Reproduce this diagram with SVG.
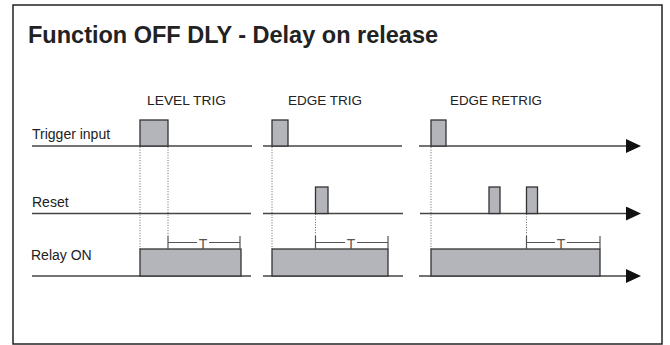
<svg xmlns="http://www.w3.org/2000/svg" width="670" height="345" viewBox="0 0 670 345">
<style>
.t{font-family:"Liberation Sans",Arial,sans-serif;fill:#222}
.tt{font-family:"Liberation Sans",Arial,sans-serif;fill:#555;font-size:14px}
.ax{stroke:#444;stroke-width:1.3;fill:none}
.p{fill:#b3b5ba;stroke:#333;stroke-width:1.3}
.d{stroke:#666;stroke-width:1;stroke-dasharray:1 1.6;fill:none}
.dim{stroke:#555;stroke-width:1.2;fill:none}
</style>
<defs>
<marker id="ah" viewBox="0 0 15 14" refX="0" refY="7" markerWidth="15" markerHeight="14" markerUnits="userSpaceOnUse" orient="auto">
<path d="M0,0 L15,7 L0,14 Z" fill="#111"/>
</marker>
</defs>
<rect x="13" y="5" width="649" height="339" fill="#fff" stroke="#222" stroke-width="1.5"/>
<text class="t" x="28" y="43" font-size="23.5" font-weight="bold">Function OFF DLY - Delay on release</text>
<g id="headers" font-size="13">
<text class="t" x="147" y="105" textLength="79" lengthAdjust="spacingAndGlyphs">LEVEL TRIG</text>
<text class="t" x="288" y="105" textLength="74" lengthAdjust="spacingAndGlyphs">EDGE TRIG</text>
<text class="t" x="450" y="105" textLength="92" lengthAdjust="spacingAndGlyphs">EDGE RETRIG</text>
</g>
<g id="labels" font-size="14">
<text class="t" x="32" y="139">Trigger input</text>
<text class="t" x="32" y="207">Reset</text>
<text class="t" x="31" y="260">Relay ON</text>
</g>
<g id="connectors">
<g id="dotted">
<line class="d" x1="140" y1="147" x2="140" y2="249"/>
<line class="d" x1="168" y1="147" x2="168" y2="236"/>
<line class="d" x1="272" y1="147" x2="272" y2="249"/>
<line class="d" x1="315.5" y1="214" x2="315.5" y2="236"/>
<line class="d" x1="431" y1="147" x2="431" y2="249"/>
<line class="d" x1="526.5" y1="214" x2="526.5" y2="236"/>
</g>
<g id="axes">
<line class="ax" x1="32" y1="146" x2="252" y2="146"/>
<line class="ax" x1="263" y1="146" x2="402" y2="146"/>
<line class="ax" x1="419" y1="146" x2="626" y2="146" marker-end="url(#ah)"/>
<line class="ax" x1="32" y1="213.5" x2="251" y2="213.5"/>
<line class="ax" x1="263" y1="213.5" x2="403" y2="213.5"/>
<line class="ax" x1="420" y1="213.5" x2="626" y2="213.5" marker-end="url(#ah)"/>
<line class="ax" x1="32" y1="276" x2="251" y2="276"/>
<line class="ax" x1="263" y1="276" x2="403" y2="276"/>
<line class="ax" x1="419" y1="276" x2="626" y2="276" marker-end="url(#ah)"/>
</g>
</g>
<g id="trigger-pulses">
<rect class="p" x="140" y="120" width="28" height="26"/>
<rect class="p" x="272" y="120" width="16" height="26"/>
<rect class="p" x="431" y="120" width="15" height="26"/>
</g>
<g id="reset-pulses">
<rect class="p" x="315.5" y="187" width="12.5" height="26.5"/>
<rect class="p" x="489" y="187" width="11" height="26.5"/>
<rect class="p" x="526.5" y="187" width="11" height="26.5"/>
</g>
<g id="relay-pulses">
<rect class="p" x="140" y="249" width="101" height="27"/>
<rect class="p" x="272" y="249" width="116" height="27"/>
<rect class="p" x="431" y="249" width="169" height="27"/>
</g>
<g id="dim-level">
<path class="dim" d="M168,236 V249 M240,236 V249 M168,242.5 H197 M209,242.5 H240"/>
<text class="tt" x="203" y="249" text-anchor="middle">T</text>
</g>
<g id="dim-edge">
<path class="dim" d="M315.5,236 V249 M388,236 V249 M315.5,242.5 H345 M357,242.5 H388"/>
<text class="tt" x="351" y="249" text-anchor="middle">T</text>
</g>
<g id="dim-retrig">
<path class="dim" d="M526.5,236 V249 M600,236 V249 M526.5,242.5 H555 M567,242.5 H600"/>
<text class="tt" x="561" y="249" text-anchor="middle">T</text>
</g>
</svg>
